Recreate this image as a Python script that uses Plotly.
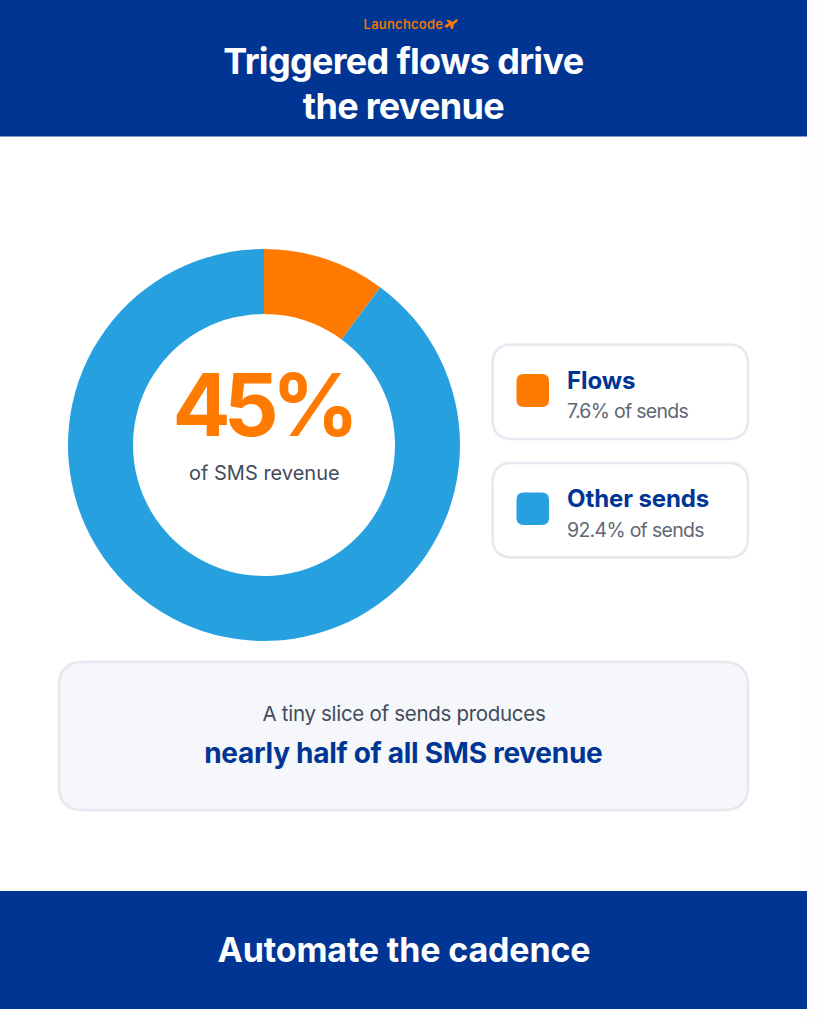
import json
import plotly.graph_objects as go

W, H = 822, 1024
slice_labels = ["Flows", "Other sends"]
slice_values = [10.1, 89.9]
slice_colors = ["#FF7A00", "#27A0E0"]
legend_names = ["Flows", "Other sends"]
legend_subs = ["7.6% of sends", "92.4% of sends"]
NAVY = "#003594"
ORANGE = "#FF7A00"
BORDER = "#E5E8EE"
FONT = "Inter"

def px(x): return x / W
def py(y): return 1 - y / H

def rrect(x0, y0, x1, y1, r):
    X0, X1 = px(x0), px(x1)
    Y0, Y1 = py(y0), py(y1)
    rx, ry = r / W, r / H
    return (f"M{X0+rx},{Y0} L{X1-rx},{Y0} Q{X1},{Y0} {X1},{Y0-ry} L{X1},{Y1+ry} Q{X1},{Y1} {X1-rx},{Y1} "
            f"L{X0+rx},{Y1} Q{X0},{Y1} {X0},{Y1+ry} L{X0},{Y0-ry} Q{X0},{Y0} {X0+rx},{Y0} Z")

shapes = []
def rect(x0, y0, x1, y1, fill):
    shapes.append(dict(type="rect", xref="paper", yref="paper", x0=px(x0), x1=px(x1),
                       y0=py(y0), y1=py(y1), fillcolor=fill, line_width=0, layer="below"))
def rounded(x0, y0, x1, y1, r, fill, line=None, lw=0):
    shapes.append(dict(type="path", xref="paper", yref="paper", path=rrect(x0, y0, x1, y1, r),
                       fillcolor=fill, line=dict(color=line or fill, width=lw), layer="below"))

rect(807, 0, 822, 1024, "#FDFDFD")
rect(0, 0, 807, 136.5, NAVY)
rect(0, 891, 807, 1009, NAVY)
rounded(492.5, 344.5, 748, 439, 20, "#FFFFFF", BORDER, 2.5)
rounded(492.5, 463, 748, 557.5, 20, "#FFFFFF", BORDER, 2.5)
rounded(516.5, 374, 549, 407, 7, slice_colors[0])
rounded(516.5, 492.5, 549, 525, 7, slice_colors[1])
rounded(59, 662, 748, 810, 24, "#F5F7FA", BORDER, 2.5)

# logo plane
plane = [(444, 26), (449, 23), (446, 20), (449, 20), (452.5, 22), (456, 19.5), (458, 19), (457, 22), (454, 24), (453, 29), (451, 29), (450, 25), (447, 28)]
shapes.append(dict(type="path", xref="paper", yref="paper",
                   path="M" + " L".join(f"{px(a)},{py(b)}" for a, b in plane) + " Z",
                   fillcolor=ORANGE, line_width=0, layer="above"))

anns = []
spacing = []
def text(x, y, s, size, color, weight=400, anchor="center", ls=0):
    spacing.append(ls)
    anns.append(dict(x=px(x), y=py(y), xref="paper", yref="paper", text=s, showarrow=False,
                     xanchor=anchor, yanchor="middle", align=anchor,
                     font=dict(family=FONT, size=size, color=color, weight=weight)))

text(403, 24, "Launchcode", 13, ORANGE, 500, ls=0.3)
text(403.5, 61, "Triggered flows drive", 36, "#FFFFFF", 700, ls=-0.7)
text(403.5, 105.5, "the revenue", 36, "#FFFFFF", 700, ls=-0.7)
text(261.5, 405, "45%", 86, ORANGE, 700, ls=-7)
text(264, 473, "of SMS revenue", 20, "#424B5A", 400)
text(564.5, 380, legend_names[0], 24, NAVY, 700, "left", ls=-0.1)
text(564.5, 411, legend_subs[0], 19.5, "#5F6775", 400, "left", ls=-0.7)
text(564.5, 498.5, legend_names[1], 24, NAVY, 700, "left", ls=-0.1)
text(564.5, 530, legend_subs[1], 19.5, "#5F6775", 400, "left", ls=-0.7)
text(403.5, 713.5, "A tiny slice of sends produces", 20.5, "#424B5A", 400, ls=-0.3)
text(403.5, 753, "nearly half of all SMS revenue", 28, NAVY, 700, ls=-0.28)
text(403.5, 949, "Automate the cadence", 34, "#FFFFFF", 700, ls=-0.15)

cx, cy, R, r = 264, 445, 196, 131
fig = go.Figure(go.Pie(
    labels=slice_labels, values=slice_values, hole=r / R, sort=False, direction="clockwise",
    rotation=0, marker=dict(colors=slice_colors, line_width=0), textinfo="none",
    hoverinfo="label", showlegend=False,
    domain=dict(x=[px(cx - R), px(cx + R)], y=[py(cy + R), py(cy - R)]),
))
fig.update_layout(width=W, height=H, margin=dict(l=0, r=0, t=0, b=0), paper_bgcolor="#FFFFFF",
                  plot_bgcolor="#FFFFFF", shapes=shapes, annotations=anns, showlegend=False)
post = ("document.body.style.margin='0';document.body.style.overflow='hidden';"
        "var LS=" + json.dumps(spacing) + ";"
        "document.querySelectorAll('.annotation-text').forEach(function(t,i){t.style.letterSpacing=LS[i]+'px';});")
fig.write_html("out.html", config=dict(displayModeBar=False), post_script=post)
